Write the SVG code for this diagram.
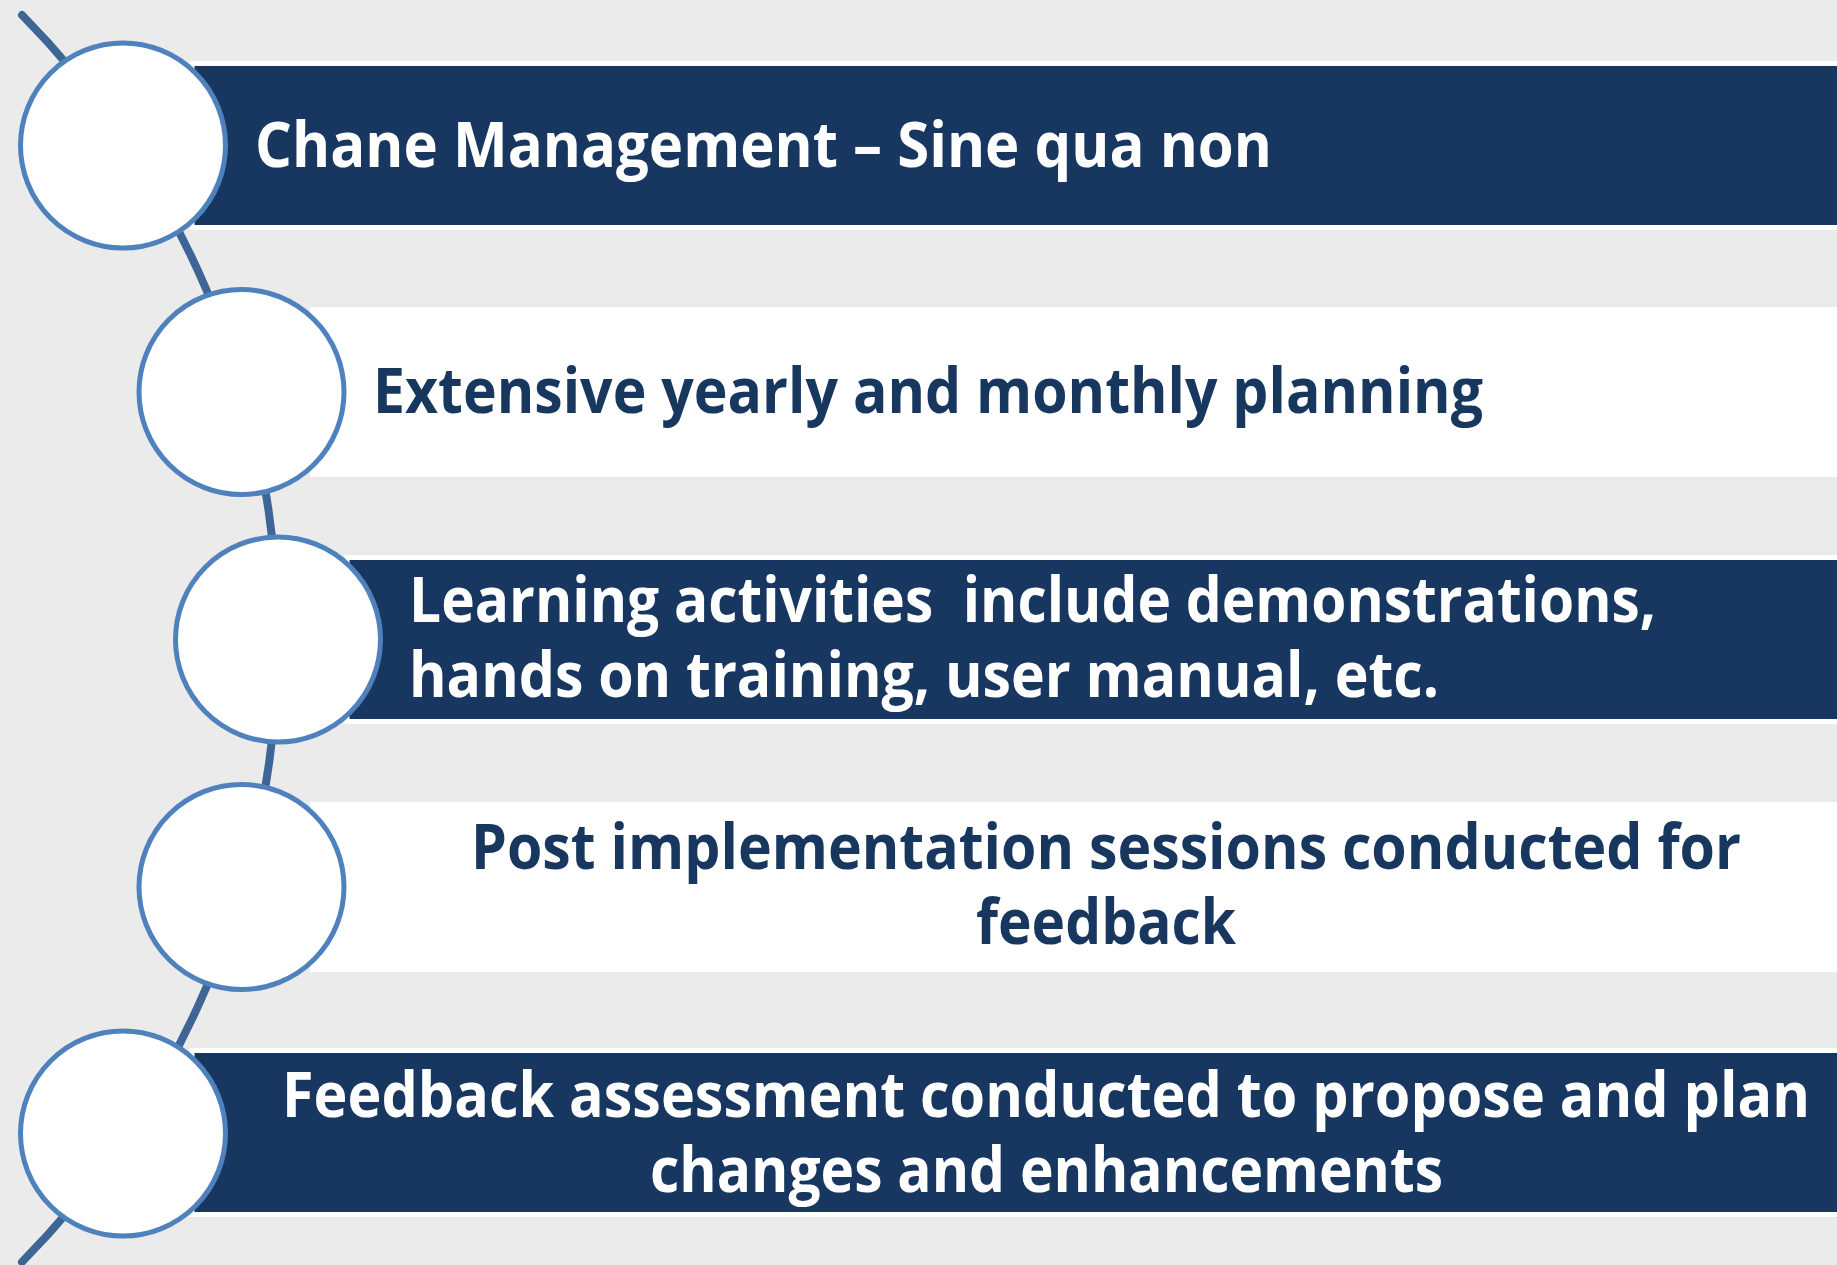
<svg xmlns="http://www.w3.org/2000/svg" width="1837" height="1265" viewBox="0 0 1837 1265">
  <defs>
    <style>
      .bg { fill: #EBEBEB; }
      .dark { fill: #183760; stroke: #FFFFFF; stroke-width: 5; }
      .light { fill: #FFFFFF; }
      .node { fill: #FFFFFF; stroke: #4F81BD; stroke-width: 5; }
      .arc { fill: none; stroke: #3D6697; stroke-width: 8; stroke-linecap: round; }
      .t { font-family: "Open Sans", "Liberation Sans", sans-serif; font-weight: bold; font-size: 63px; white-space: pre; }
      .tw { fill: #FFFFFF; }
      .td { fill: #17375E; }
    </style>
  </defs>
  <rect class="bg" x="0" y="0" width="1837" height="1265"/>

  <g id="connectors">
    <path class="arc" d="M 22 15 A 888 888 0 0 1 22 1262"/>
  </g>

  <g id="node1">
    <rect class="dark" x="192" y="63.5" width="1650" height="164"/>
    <circle class="node" cx="123" cy="145.5" r="102.5"/>
    <text class="t tw" x="255" y="167" textLength="1017" lengthAdjust="spacingAndGlyphs">Chane Management – Sine qua non</text>
  </g>

  <g id="node2">
    <rect class="light" x="310" y="307" width="1527" height="170"/>
    <circle class="node" cx="241.5" cy="392" r="102.5"/>
    <text class="t td" x="373" y="413" textLength="1110" lengthAdjust="spacingAndGlyphs">Extensive yearly and monthly planning</text>
  </g>

  <g id="node3">
    <rect class="dark" x="347" y="557.5" width="1495" height="164"/>
    <circle class="node" cx="278" cy="639.5" r="102.5"/>
    <text class="t tw" x="409" y="621.5" textLength="1247" lengthAdjust="spacingAndGlyphs">Learning activities  include demonstrations,</text>
    <text class="t tw" x="409" y="696.5" textLength="1030" lengthAdjust="spacingAndGlyphs">hands on training, user manual, etc.</text>
  </g>

  <g id="node4">
    <rect class="light" x="310" y="802" width="1527" height="170"/>
    <circle class="node" cx="241.5" cy="887" r="102.5"/>
    <text class="t td" x="471" y="869" textLength="1270" lengthAdjust="spacingAndGlyphs">Post implementation sessions conducted for</text>
    <text class="t td" x="976" y="944" textLength="260" lengthAdjust="spacingAndGlyphs">feedback</text>
  </g>

  <g id="node5">
    <rect class="dark" x="192" y="1050.5" width="1650" height="164"/>
    <circle class="node" cx="123" cy="1133.5" r="102.5"/>
    <text class="t tw" x="282" y="1117" textLength="1528" lengthAdjust="spacingAndGlyphs">Feedback assessment conducted to propose and plan</text>
    <text class="t tw" x="650" y="1192" textLength="793" lengthAdjust="spacingAndGlyphs">changes and enhancements</text>
  </g>
</svg>
